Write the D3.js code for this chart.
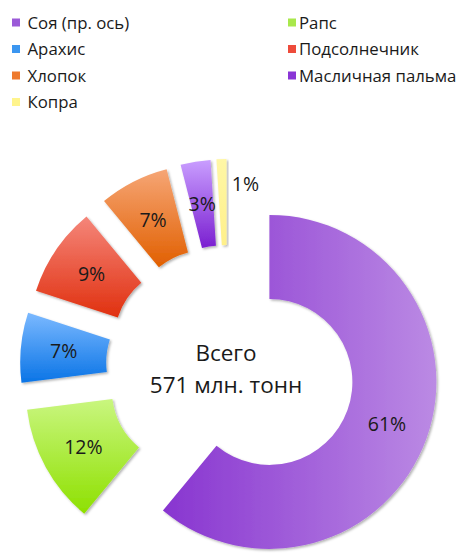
<!DOCTYPE html>
<html>
<head>
<meta charset="utf-8">
<script src="https://cdn.jsdelivr.net/npm/d3@7"></script>
<style>
  body { margin: 0; background: #fff; }
  svg text { font-family: "Open Sans", "Noto Sans", sans-serif; fill: #1a1a1a; }
</style>
</head>
<body>
<div class="chart"></div>
<script>
const CROPS = ["Соя (пр. ось)", "Рапс", "Арахис", "Подсолнечник", "Хлопок", "Масличная пальма", "Копра"]
const SHARES = [61, 12, 7, 9, 7, 3, 1]
const COLORS_TOP = ["#8835d0", "#c9f67f", "#7bb9ff", "#f5867a", "#f6a676", "#c99eff", "#fff7a6"]
const COLORS_BOTTOM = ["#bb8ae4", "#8ee000", "#0a74e6", "#e0300f", "#e15f00", "#7a1fd0", "#fff08a"]
const LEGEND_COLORS = ["#9b5ad8", "#a9e84c", "#3b96f0", "#ee4b3b", "#ee7a2e", "#8a35d6", "#fff48c"]
const TOTAL_LINES = ["Всего", "571 млн. тонн"]

const WIDTH = 459, HEIGHT = 554;
const CX = 228, CY = 367;
const EXPLODE = 47, SOY_EXPLODE = 44;

const svg = d3.select(".chart").append("svg").attr("width", WIDTH).attr("height", HEIGHT);
const defs = svg.append("defs");

// soft shadow like the office charts
const shadow = defs.append("filter").attr("id", "shadow").attr("x", "-10%").attr("y", "-10%").attr("width", "130%").attr("height", "130%");
shadow.append("feDropShadow").attr("dx", 1.5).attr("dy", 1.5).attr("stdDeviation", 1.2).attr("flood-color", "#000").attr("flood-opacity", 0.3);

CROPS.forEach((c, i) => {
  let g = defs.append("linearGradient").attr("id", "grad" + i);
  if (i == 0) g.attr("x1", 0).attr("y1", 0).attr("x2", 1).attr("y2", 0);
  else g.attr("x1", 0).attr("y1", 0).attr("x2", 0).attr("y2", 1);
  g.append("stop").attr("offset", "0%").attr("stop-color", COLORS_TOP[i]);
  g.append("stop").attr("offset", "100%").attr("stop-color", COLORS_BOTTOM[i]);
});

// Legend
const legend = svg.append("g");
CROPS.forEach((c, i) => {
  let col = i % 2, row = Math.floor(i / 2);
  let x = col == 0 ? 12 : 288, y = 22.5 + row * 26.5;
  legend.append("rect").attr("x", x).attr("y", y - 4).attr("width", 8).attr("height", 8).attr("fill", LEGEND_COLORS[i]);
  legend.append("text").attr("x", x + (col == 0 ? 15.5 : 11)).attr("y", y).attr("dy", "0.36em").attr("font-size", 16.8).text(c);
});

// Donut
const pie = d3.pie().sort(null).value(d => d);
const arcs = pie(SHARES);
const arcMain = d3.arc().innerRadius(75).outerRadius(161);
const arcSoy = d3.arc().innerRadius(83).outerRadius(167);

const slices = svg.append("g").attr("transform", `translate(${CX},${CY})`);
arcs.forEach((a, i) => {
  let mid = (a.startAngle + a.endAngle) / 2;
  let d = i == 0 ? SOY_EXPLODE : EXPLODE;
  let ox = d * Math.sin(mid), oy = -d * Math.cos(mid);
  let arc = i == 0 ? arcSoy : arcMain;
  let g = slices.append("g").attr("transform", `translate(${ox},${oy})`);
  g.append("path").attr("d", arc(a)).attr("fill", `url(#grad${i})`).attr("filter", "url(#shadow)");

  let [lx, ly] = arc.centroid(a);
  if (i == CROPS.length - 1) {
    // tiny slice: label sits outside
    let la = mid + 0.17, lr = 137;
    lx = lr * Math.sin(la); ly = -lr * Math.cos(la);
  }
  g.append("text").attr("x", lx).attr("y", ly).attr("dy", "0.36em").attr("text-anchor", "middle")
    .attr("font-size", 19.5).text(a.data + "%");
});

// total in the middle
svg.append("g").selectAll("text").data(TOTAL_LINES).join("text")
  .attr("x", 226).attr("y", (d, i) => 353 + i * 32).attr("dy", "0.36em")
  .attr("text-anchor", "middle").attr("font-size", 22.5).text(d => d);
</script>
</body>
</html>
